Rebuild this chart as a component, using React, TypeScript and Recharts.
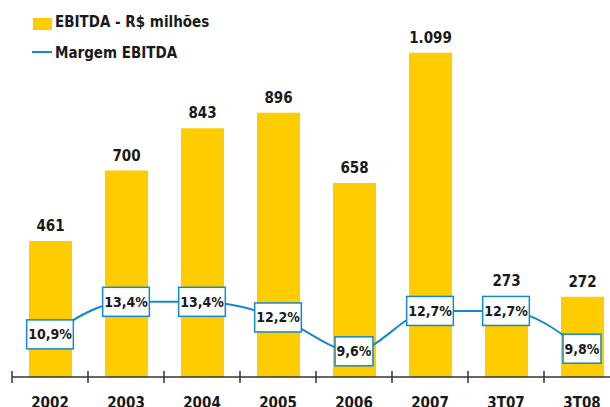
import React from 'react';
import { ComposedChart, Bar, Line, XAxis, YAxis, LabelList } from 'recharts';

const categories = ['2002', '2003', '2004', '2005', '2006', '2007', '3T07', '3T08'];
const ebitda = [461, 700, 843, 896, 658, 1099, 273, 272];
const margem = [10.9, 13.4, 13.4, 12.2, 9.6, 12.7, 12.7, 9.8];

const data = categories.map((c, i) => ({ cat: c, ebitda: ebitda[i], margem: margem[i] }));

const FONT = '"DejaVu Sans Condensed", "DejaVu Sans", sans-serif';
const YELLOW = '#FFCC00';
const BLUE = '#1488cc';
const DARK = '#1a1a1a';

const fmtThousands = (v: number) => {
  const s = Math.round(v).toString();
  return s.replace(/\B(?=(\d{3})+(?!\d))/g, '.');
};
const fmtPct = (v: number) => v.toFixed(1).replace('.', ',') + '%';

const PctLabel = (props: any) => {
  const { x, y, value } = props;
  const txt = fmtPct(value);
  let w = 3 + 12.6;
  for (const ch of txt) {
    if (/\d/.test(ch)) w += 8.76;
    else if (ch === ',') w += 4.8;
  }
  const h = 29;
  return (
    <g>
      <rect x={x - w / 2} y={y - h / 2} width={w} height={h} fill="#fff" stroke={BLUE} strokeWidth={1.5} />
      <text x={x} y={y + 5} textAnchor="middle" fontFamily={FONT} fontWeight="bold" fontSize={14} fill={DARK}>
        {txt}
      </text>
    </g>
  );
};

const Tick = (props: any) => {
  const { x, y, payload } = props;
  return (
    <g>
      <line x1={x - 38} x2={x - 38} y1={y - 6} y2={y + 6} stroke="#333" strokeWidth={1.5} />
      <text x={x} y={y + 31} textAnchor="middle" fontFamily={FONT} fontWeight="bold" fontSize={15} fill={DARK}>
        {payload.value}
      </text>
    </g>
  );
};

export default function App() {
  return (
    <div style={{ position: 'absolute', left: 0, top: 0, width: 610, height: 407, overflow: 'hidden', background: '#fff' }}>
      <ComposedChart
        width={622}
        height={407}
        data={data}
        margin={{ top: 23, right: 2, bottom: 0, left: 12 }}
      >
        <XAxis
          dataKey="cat"
          height={30}
          tickSize={0}
          tickMargin={0}
          axisLine={{ stroke: '#333', strokeWidth: 1.5 }}
          tick={<Tick />}
          interval={0}
        />
        <YAxis yAxisId="left" hide domain={[0, 1200]} />
        <YAxis yAxisId="right" hide orientation="right" domain={[7.63, 34.8]} />
        <Bar yAxisId="left" dataKey="ebitda" fill={YELLOW} barSize={43} isAnimationActive={false}>
          <LabelList
            dataKey="ebitda"
            position="top"
            offset={10}
            formatter={(v: any) => fmtThousands(Number(v))}
            style={{ fontFamily: FONT, fontWeight: 'bold', fontSize: 15, fill: DARK }}
          />
        </Bar>
        <Line
          yAxisId="right"
          type="monotone"
          dataKey="margem"
          stroke={BLUE}
          strokeWidth={2}
          dot={false}
          isAnimationActive={false}
        >
          <LabelList dataKey="margem" content={<PctLabel />} />
        </Line>
      </ComposedChart>
      <div style={{ position: 'absolute', left: 33, top: 18, width: 19, height: 12, background: YELLOW }} />
      <div style={{ position: 'absolute', left: 55, top: 12, fontFamily: FONT, fontWeight: 'bold', fontSize: 15, color: DARK, lineHeight: '20px', whiteSpace: 'nowrap' }}>
        EBITDA - R$ milhões
      </div>
      <div style={{ position: 'absolute', left: 32, top: 51, width: 20, height: 2, background: BLUE }} />
      <div style={{ position: 'absolute', left: 55, top: 43, fontFamily: FONT, fontWeight: 'bold', fontSize: 15, color: DARK, lineHeight: '20px', whiteSpace: 'nowrap' }}>
        Margem EBITDA
      </div>
    </div>
  );
}
